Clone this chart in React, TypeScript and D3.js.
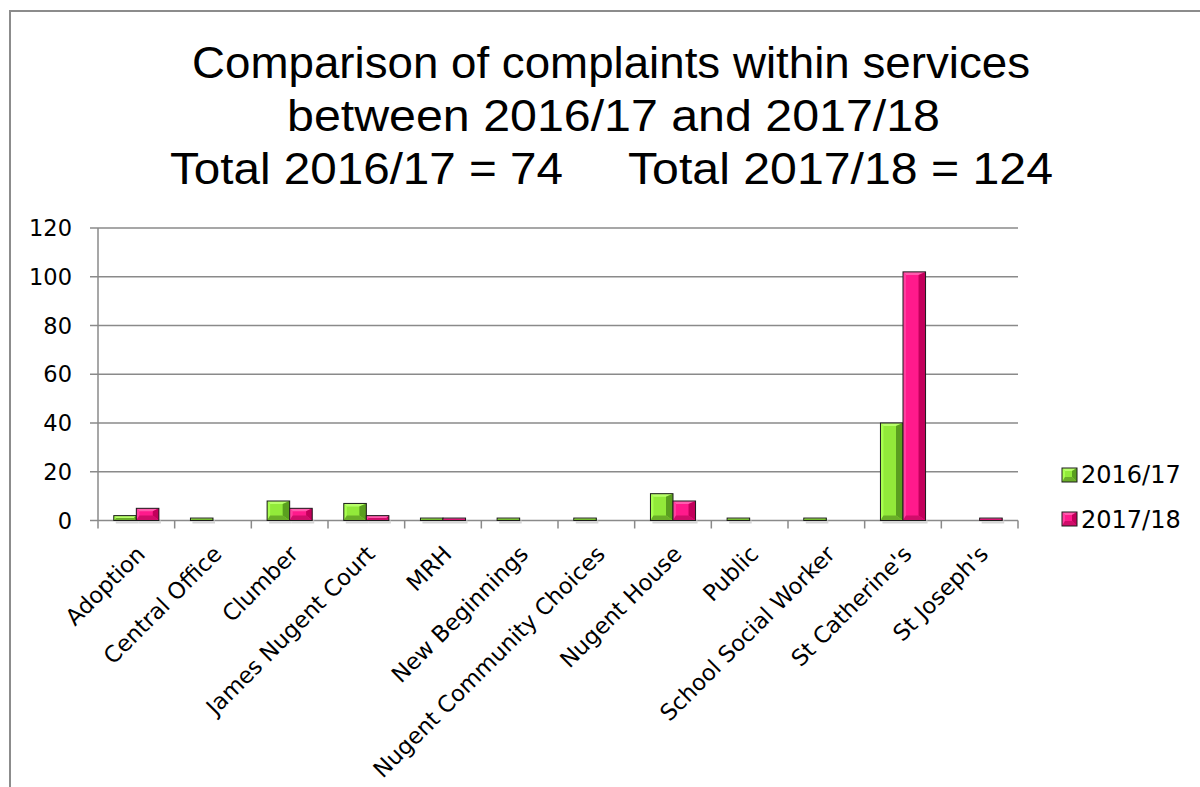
import React from "react";
import * as d3 from "d3";

const categories = [
  "Adoption",
  "Central Office",
  "Clumber",
  "James Nugent Court",
  "MRH",
  "New Beginnings",
  "Nugent Community Choices",
  "Nugent House",
  "Public",
  "School Social Worker",
  "St Catherine's",
  "St Joseph's",
];
const series = ["2016/17", "2017/18"];
const values1617: (number | null)[] = [2, 1, 8, 7, 1, 1, 1, 11, 1, 1, 40, null];
const values1718: (number | null)[] = [5, null, 5, 2, 1, null, null, 8, null, null, 102, 1];
const yTicks = [0, 20, 40, 60, 80, 100, 120];
const titleLines = [
  "Comparison of complaints within services",
  "between 2016/17 and 2017/18",
];
const totalsLine = ["Total 2016/17 = 74", "Total 2017/18 = 124"];

const palettes = [
  { main: "#92ea3a", left: "#a8ff4f", top: "#b8ff6a", right: "#5a9f1f", bottom: "#6aae28" },
  { main: "#ff1a8c", left: "#ff3f9f", top: "#ff5cae", right: "#c2005b", bottom: "#d00d6a" },
];

function BevelBar({ x, y, w, h, pal }: { x: number; y: number; w: number; h: number; pal: any }) {
  const bl = Math.min(3, h / 2, w / 4);
  const br = Math.min(7, h / 2, w / 3);
  const bt = Math.min(3, h / 2);
  const bb = Math.min(5, h / 2);
  const p = (pts: number[][]) => pts.map((q) => q.join(",")).join(" ");
  return (
    <g>
      <rect x={x} y={y} width={w} height={h} fill={pal.main} />
      <polygon points={p([[x, y], [x + w, y], [x + w - br, y + bt], [x + bl, y + bt]])} fill={pal.top} />
      <polygon points={p([[x, y], [x + bl, y + bt], [x + bl, y + h - bb], [x, y + h]])} fill={pal.left} />
      <polygon points={p([[x + w, y], [x + w, y + h], [x + w - br, y + h - bb], [x + w - br, y + bt]])} fill={pal.right} />
      <polygon points={p([[x, y + h], [x + w, y + h], [x + w - br, y + h - bb], [x + bl, y + h - bb]])} fill={pal.bottom} />
      <rect x={x} y={y} width={w} height={h} fill="none" stroke="#1c1c1c" strokeWidth={1} />
    </g>
  );
}

export default function App() {
  const W = 1200;
  const H = 787;
  const left = 98;
  const right = 1018;
  const top = 228;
  const bottom = 520.5;

  const x0 = d3.scaleBand<string>().domain(categories).range([left, right]).padding(0);
  const x1 = d3.scaleBand<string>().domain(series).range([0, x0.bandwidth()]).paddingInner(0).paddingOuter(0.7);
  const y = d3.scaleLinear().domain([0, 120]).range([bottom, top]);
  const data = [values1617, values1718];
  const axisColor = "#8a8a8a";
  const font = "'DejaVu Sans', sans-serif";
  const titleFont = "'Liberation Sans', Arial, sans-serif";

  const boundaries = categories.map((c) => x0(c) as number).concat([right]);

  return (
    <svg width={W} height={H} style={{ position: "absolute", left: 0, top: 0, background: "#fff" }}>
      <rect x={0} y={0} width={W} height={H} fill="#fff" />
      <rect x={10} y={11} width={W + 20} height={H + 20} fill="none" stroke="#8c8c8c" strokeWidth={2} />

      {/* title */}
      <text x={192} y={78} fontFamily={titleFont} fontSize={44} textLength={838} lengthAdjust="spacingAndGlyphs" fill="#000">
        {titleLines[0]}
      </text>
      <text x={287} y={131} fontFamily={titleFont} fontSize={44} textLength={653} lengthAdjust="spacingAndGlyphs" fill="#000">
        {titleLines[1]}
      </text>
      <text x={170} y={184} fontFamily={titleFont} fontSize={44} textLength={393} lengthAdjust="spacingAndGlyphs" fill="#000">
        {totalsLine[0]}
      </text>
      <text x={628} y={184} fontFamily={titleFont} fontSize={44} textLength={425} lengthAdjust="spacingAndGlyphs" fill="#000">
        {totalsLine[1]}
      </text>

      {/* gridlines and y ticks */}
      {yTicks.map((t) => (
        <g key={t}>
          <line x1={left - 8} x2={right} y1={y(t)} y2={y(t)} stroke={axisColor} strokeWidth={1.5} />
          <text x={72} y={y(t) + 8} textAnchor="end" fontFamily={font} fontSize={22.5} fill="#000">
            {t}
          </text>
        </g>
      ))}
      <line x1={left} x2={left} y1={top} y2={bottom} stroke={axisColor} strokeWidth={1.5} />
      {boundaries.map((b, i) => (
        <line key={i} x1={b} x2={b} y1={bottom} y2={bottom + 8} stroke={axisColor} strokeWidth={1.5} />
      ))}

      {/* bars */}
      {categories.map((c, ci) => (
        <g key={c}>
          {series.map((s, si) => {
            const v = data[si][ci];
            if (v === null || v === undefined) return null;
            const bx = (x0(c) as number) + (x1(s) as number);
            const bw = x1.bandwidth();
            const by = y(v);
            const bh = y(0) - y(v);
            return (
              <g key={s}>
                <rect x={bx + 2} y={bottom} width={bw} height={3} fill="#d6d6d6" />
                <BevelBar x={bx} y={by} w={bw} h={bh} pal={palettes[si]} />
              </g>
            );
          })}
        </g>
      ))}

      {/* category labels */}
      {categories.map((c) => {
        const cx = (x0(c) as number) + x0.bandwidth() / 2;
        return (
          <text
            key={c}
            transform={`translate(${cx + 10},${bottom + 35}) rotate(-45)`}
            textAnchor="end"
            fontFamily={font}
            fontSize={22.6}
            fill="#000"
          >
            {c}
          </text>
        );
      })}

      {/* legend */}
      {series.map((s, si) => (
        <g key={s}>
          <BevelBar x={1062} y={468 + si * 44} w={15} h={14} pal={palettes[si]} />
          <text x={1081} y={483 + si * 45} fontFamily={font} fontSize={24} fill="#000">
            {s}
          </text>
        </g>
      ))}
    </svg>
  );
}
